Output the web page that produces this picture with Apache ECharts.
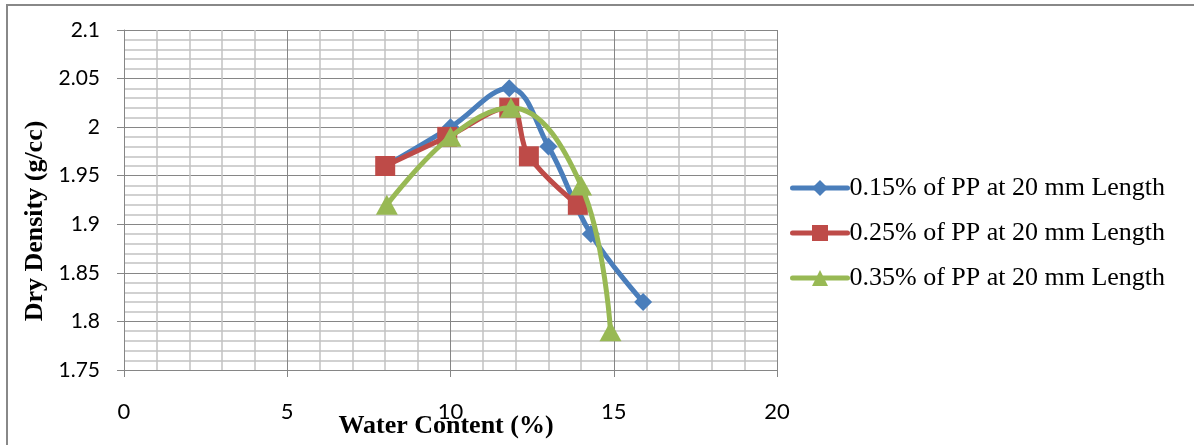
<!DOCTYPE html>
<html>
<head>
<meta charset="utf-8">
<script src="https://cdn.jsdelivr.net/npm/echarts@6/dist/echarts.min.js"></script>
<style>
  html, body { margin: 0; padding: 0; background: #fff; }
  #chart { width: 1194px; height: 445px; }
</style>
</head>
<body>
<div id="chart"></div>
<script>
// Data
const seriesNames = [
  '0.15% of PP at 20 mm Length',
  '0.25% of PP at 20 mm Length',
  '0.35% of PP at 20 mm Length'
];
const water015 = [8, 10, 11.8, 13, 14.3, 15.9];
const density015 = [1.96, 2.0, 2.04, 1.98, 1.89, 1.82];
const water025 = [8, 9.9, 11.8, 12.4, 13.9];
const density025 = [1.96, 1.99, 2.02, 1.97, 1.92];
const water035 = [8.05, 10, 11.85, 14, 14.9];
const density035 = [1.92, 1.99, 2.02, 1.94, 1.79];
const xTitle = 'Water Content (%)';
const yTitle = 'Dry Density (g/cc)';

function pairs(xs, ys) { return xs.map((x, i) => [x, ys[i]]); }

const colors = ['#4a7ebb', '#be4b48', '#98b954'];
const symbols = ['diamond', 'rect', 'triangle'];
const symbolSizes = [[18, 18], [20, 20], [22, 20]];
const datasets = [pairs(water015, density015), pairs(water025, density025), pairs(water035, density035)];

const chart = echarts.init(document.getElementById('chart'));
chart.setOption({
  animation: false,
  backgroundColor: '#ffffff',
  grid: { left: 124, top: 30, right: 417, bottom: 75 },
  legend: {
    orient: 'vertical',
    left: 785,
    top: 170,
    itemWidth: 55,
    itemHeight: 20,
    itemGap: 19,
    lineStyle: { width: 5, cap: 'round' },
    textStyle: { fontFamily: 'Liberation Serif', fontSize: 26, color: '#000', lineHeight: 26, padding: [0, 0, 0, -3] },
    data: seriesNames
  },
  xAxis: {
    type: 'value',
    min: 0, max: 20, interval: 5,
    axisLine: { show: true, lineStyle: { color: '#868686', width: 1 } },
    axisTick: { show: true, length: 7, lineStyle: { color: '#868686' } },
    axisLabel: { margin: 31, fontFamily: 'Lato', fontSize: 22, color: '#000' },
    splitLine: { show: true, lineStyle: { color: '#868686', width: 1 } },
    minorTick: { show: false, splitNumber: 5 },
    minorSplitLine: { show: true, lineStyle: { color: '#c2c2c2', width: 1.5 } }
  },
  yAxis: {
    type: 'value',
    min: 1.75, max: 2.1, interval: 0.05,
    axisLine: { show: true, lineStyle: { color: '#868686', width: 1 } },
    axisTick: { show: true, length: 7, lineStyle: { color: '#868686' } },
    axisLabel: { margin: 24, fontFamily: 'Lato', fontSize: 21, color: '#000' },
    splitLine: { show: true, lineStyle: { color: '#868686', width: 1 } },
    minorTick: { show: false, splitNumber: 5 },
    minorSplitLine: { show: true, lineStyle: { color: '#c2c2c2', width: 1.5 } }
  },
  series: seriesNames.map((name, i) => ({
    name: name,
    type: 'line',
    data: datasets[i],
    smooth: 0.4,
    symbol: symbols[i],
    symbolSize: symbolSizes[i],
    showAllSymbol: true,
    color: colors[i],
    lineStyle: { color: colors[i], width: 5, cap: 'round', join: 'round' },
    itemStyle: { color: colors[i] },
    z: 2 + i
  })),
  graphic: [
    {
      type: 'rect',
      shape: { x: 7, y: 5, width: 2000, height: 1000 },
      style: { fill: 'none', stroke: '#888888', lineWidth: 2 },
      silent: true, z: 0
    },
    {
      type: 'text',
      x: 446, y: 426,
      style: { text: xTitle, fontFamily: 'Liberation Serif', fontWeight: 'bold', fontSize: 26, fill: '#000', textAlign: 'center', textVerticalAlign: 'middle' },
      z: 10
    },
    {
      type: 'text',
      x: 35, y: 221,
      rotation: Math.PI / 2,
      style: { text: yTitle, fontFamily: 'Liberation Serif', fontWeight: 'bold', fontSize: 26, fill: '#000', textAlign: 'center', textVerticalAlign: 'middle' },
      z: 10
    }
  ]
});
</script>
</body>
</html>
